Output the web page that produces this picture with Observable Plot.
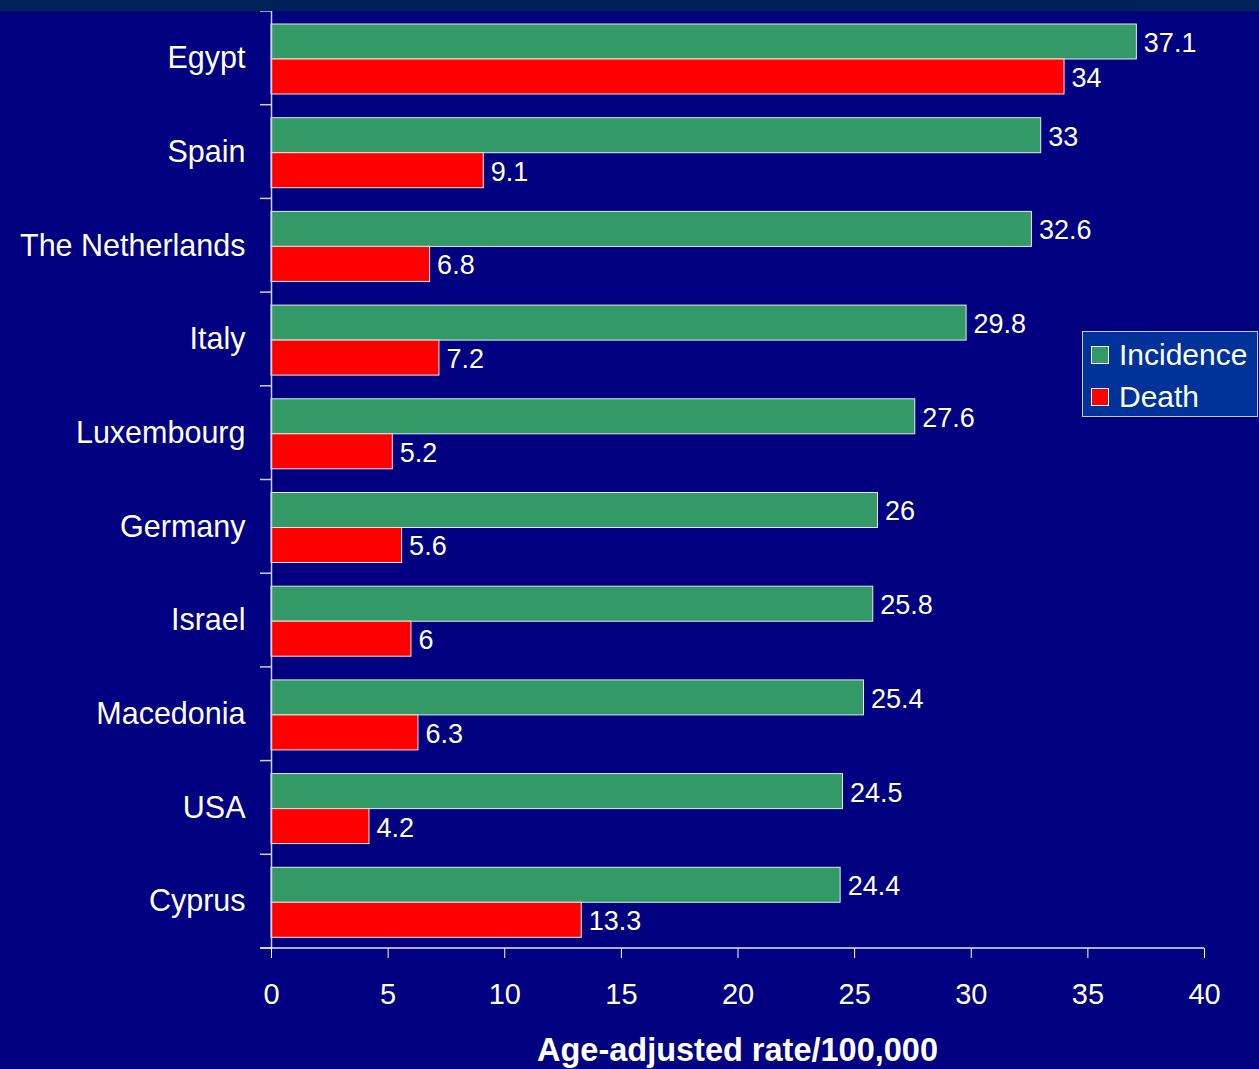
<!DOCTYPE html>
<html><head><meta charset="utf-8">
<script src="https://cdn.jsdelivr.net/npm/d3@7"></script>
<script src="https://cdn.jsdelivr.net/npm/@observablehq/plot@0.6"></script>
<style>
html,body{margin:0;padding:0;background:#000080;}
#wrap{position:relative;width:1259px;height:1069px;overflow:hidden;font-family:"Liberation Sans",Arial,sans-serif;}
#strip{position:absolute;left:0;top:0;width:1259px;height:11px;background:#002157;}
#legend{position:absolute;left:1082px;top:331px;width:174px;height:84px;background:#003399;border:1px solid #c8c8e0;color:#fff;font-size:30px;}
#legend .row{position:absolute;left:8px;display:flex;align-items:center;}
#legend .sw{width:18px;height:18px;border:1px solid #fff;margin-right:10px;box-sizing:border-box;}
#title{position:absolute;left:271px;width:933px;top:1032px;text-align:center;color:#fff;font-weight:bold;font-size:32.5px;}
</style></head>
<body><div id="wrap"><div id="strip"></div><div id="chart"></div>
<div id="legend"></div>
<div id="title">Age-adjusted rate/100,000</div></div>
<script>
const countries = ["Egypt","Spain","The Netherlands","Italy","Luxembourg","Germany","Israel","Macedonia","USA","Cyprus"];
const incidence = [37.1,33,32.6,29.8,27.6,26,25.8,25.4,24.5,24.4];
const death = [34,9.1,6.8,7.2,5.2,5.6,6,6.3,4.2,13.3];
const seriesNames = ["Incidence","Death"];
const seriesColors = ["#339966","#ff0000"];
const xTicks = [0,5,10,15,20,25,30,35,40];

const inc = countries.map((c,i)=>({country:c, value:incidence[i]}));
const dea = countries.map((c,i)=>({country:c, value:death[i]}));

const W=1259,H=1069,mL=271,mR=55,mT=11,mB=121;
const band=(H-mT-mB)/countries.length;

const plot = Plot.plot({
  width:W, height:H,
  marginLeft:mL, marginRight:mR, marginTop:mT, marginBottom:mB,
  style:{background:"transparent", color:"#fff", fontFamily:"'Liberation Sans', Arial, sans-serif"},
  x:{domain:[0,40]},
  y:{domain:countries, padding:0, round:false},
  marks:[
    Plot.barX(inc,{x:"value", y:"country", fill:seriesColors[0], stroke:"#e8e8e8", strokeWidth:1, insetTop:13, insetBottom:band-48}),
    Plot.barX(dea,{x:"value", y:"country", fill:seriesColors[1], stroke:"#e8e8e8", strokeWidth:1, insetTop:48, insetBottom:band-83}),
    Plot.text(inc,{x:"value", y:"country", text:d=>String(d.value), dx:7, dy:-15, textAnchor:"start", fill:"#fff", fontSize:27}),
    Plot.text(dea,{x:"value", y:"country", text:d=>String(d.value), dx:7, dy:20, textAnchor:"start", fill:"#fff", fontSize:27}),
    Plot.ruleX([0],{stroke:"#d0d0e8", strokeWidth:1.5}),
    Plot.axisY({tickSize:0, tickPadding:26, fontSize:30.5, label:null}),
    Plot.axisX({ticks:xTicks, tickSize:10, tickPadding:25, fontSize:29, label:null, stroke:"#fff"})
  ]
});
document.getElementById("chart").appendChild(plot);

// band-boundary ticks and x-axis baseline from the plot's own scales
const ys = plot.scale("y"), xs = plot.scale("x");
const svg = d3.select(plot);
const bw = ys.bandwidth;
const edges = countries.map(c=>ys.apply(c)).concat([ys.apply(countries[countries.length-1])+bw]);
const x0 = xs.apply(0), x1 = xs.apply(40);
svg.append("g").selectAll("line").data(edges).join("line")
  .attr("x1",x0-11).attr("x2",x0).attr("y1",d=>d).attr("y2",d=>d)
  .attr("stroke","#d0d0e8").attr("stroke-width",1.5);
svg.append("line").attr("x1",x0-11).attr("x2",x1).attr("y1",edges[edges.length-1]).attr("y2",edges[edges.length-1])
  .attr("stroke","#e8e8f0").attr("stroke-width",1.5);

const lg = document.getElementById("legend");
seriesNames.forEach((n,i)=>{
  const r=document.createElement("div"); r.className="row"; r.style.top=(i===0?6:48)+"px";
  r.innerHTML=`<div class="sw" style="background:${seriesColors[i]}"></div><span>${n}</span>`;
  lg.appendChild(r);
});
</script></body></html>
